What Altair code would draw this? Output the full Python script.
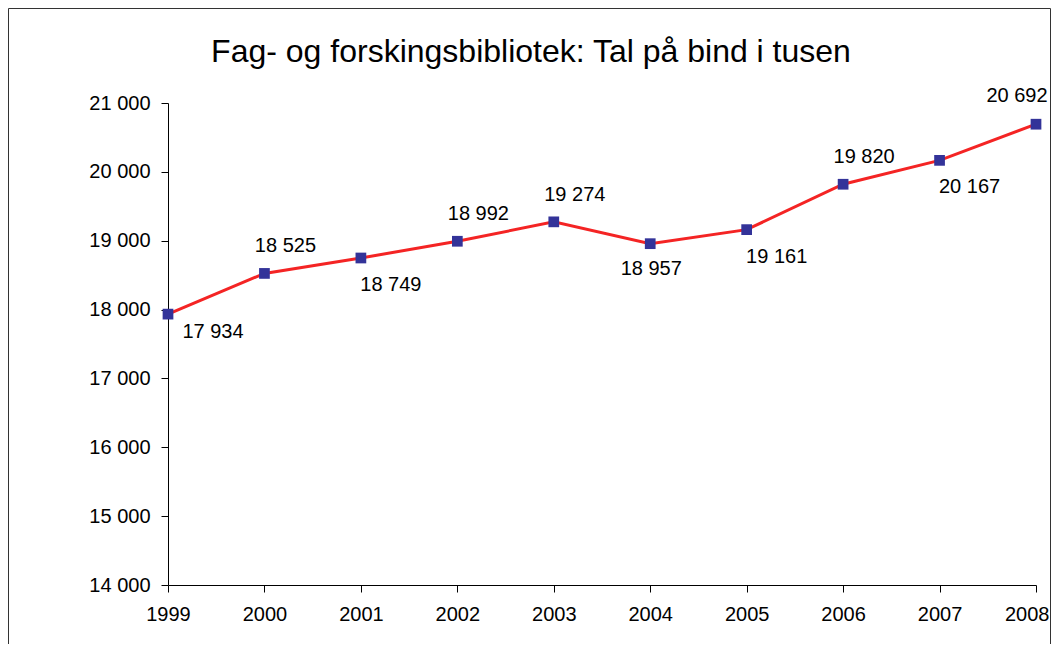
import altair as alt
import pandas as pd

years = [1999, 2000, 2001, 2002, 2003, 2004, 2005, 2006, 2007, 2008]
volumes = [17934, 18525, 18749, 18992, 19274, 18957, 19161, 19820, 20167, 20692]
label_pos = ["below_wide", "above", "below", "above", "above",
             "below_center", "below", "above", "below", "above_left"]

y_ticks = [14000, 15000, 16000, 17000, 18000, 19000, 20000, 21000]
title_text = "Fag- og forskingsbibliotek: Tal på bind i tusen"

placements = {
    "above": (21, -27),
    "below": (30, 27),
    "below_wide": (45, 18),
    "below_center": (1, 25),
    "above_left": (-19, -28),
}

df = pd.DataFrame({"year": years, "vol": volumes, "pos": label_pos})

FONT = "Liberation Sans"
W, H = 868, 482

x_enc = alt.X("year:Q", scale=alt.Scale(domain=[1999, 2008], nice=False, zero=False),
              axis=alt.Axis(values=years, format="d", title=None, grid=False,
                            tickSize=7, labelPadding=12, labelFontSize=20,
                            labelFont=FONT, labelColor="black", domainColor="black",
                            tickColor="black", labelFlush=False,
                            labelAlign={"condition": {"test": "datum.value == 2008", "value": "right"},
                                        "value": "center"},
                            labelOffset={"condition": {"test": "datum.value == 2008", "value": 13},
                                         "value": 0}))
y_enc = alt.Y("vol:Q", scale=alt.Scale(domain=[14000, 21000], nice=False, zero=False),
              axis=alt.Axis(values=y_ticks, title=None, grid=False,
                            tickSize=7, labelPadding=11, labelFontSize=20,
                            labelFont=FONT, labelColor="black", domainColor="black",
                            tickColor="black",
                            labelExpr="replace(format(datum.value, ','), ',', ' ')"))

base = alt.Chart(df)

line = base.mark_line(color="#F42424", strokeWidth=3).encode(x=x_enc, y=y_enc)
pts = base.mark_square(color="#333399", size=115, opacity=1).encode(x="year:Q", y="vol:Q")

labels = []
for name, (dx, dy) in placements.items():
    labels.append(
        base.transform_filter(alt.datum.pos == name)
        .transform_calculate(lab="replace(format(datum.vol, ','), ',', ' ')")
        .mark_text(dx=dx, dy=dy, fontSize=20, font=FONT, color="black",
                   align="center", baseline="middle")
        .encode(x="year:Q", y="vol:Q", text="lab:N")
    )

one = alt.Data(values=[{"t": title_text}])

border = alt.Chart(one).mark_rect(
    fill=None, stroke="#333333", strokeWidth=1
).encode(x=alt.value(-159.5), x2=alt.value(882.5), y=alt.value(-94.5), y2=alt.value(700))

title = alt.Chart(one).mark_text(
    fontSize=32, font=FONT, color="black", align="center", baseline="alphabetic"
).encode(x=alt.value(363), y=alt.value(-41), text="t:N")

chart = alt.layer(border, line, pts, *labels, title).properties(
    width=W, height=H,
    autosize=alt.AutoSizeParams(type="none"),
    padding={"left": 160, "top": 95, "right": 15, "bottom": 59},
).configure(background="white").configure_view(stroke=None)

chart.save("out.html", embed_options={"renderer": "svg", "actions": False})
